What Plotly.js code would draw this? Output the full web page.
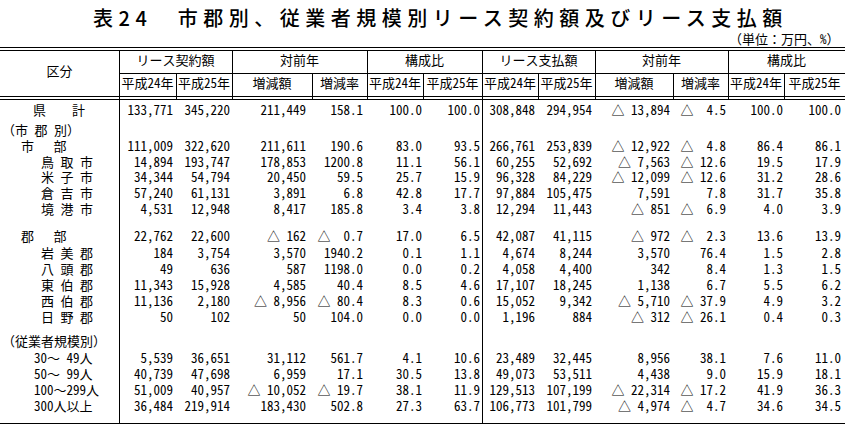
<!DOCTYPE html>
<html>
<head>
<meta charset="utf-8">
<script src="https://cdn.plot.ly/plotly-3.0.1.min.js"></script>
<style>html,body{margin:0;padding:0;background:#fff;}#chart{width:845px;height:430px;}</style>
</head>
<body>
<div id="chart"></div>
<script>
// ---------------- data ----------------
const rowLabels = ["県　　計","（市 郡 別）","市　 部","鳥 取 市","米 子 市","倉 吉 市","境 港 市","郡　 部","岩 美 郡","八 頭 郡","東 伯 郡","西 伯 郡","日 野 郡","（従業者規模別）","30～ 49人","50～ 99人","100～299人","300人以上"];
const contract24 = [133771,null,111009,14894,34344,57240,4531,22762,184,49,11343,11136,50,null,5539,40739,51009,36484];
const contract25 = [345220,null,322620,193747,54794,61131,12948,22600,3754,636,15928,2180,102,null,36651,47698,40957,219914];
const contractDiff = [211449,null,211611,178853,20450,3891,8417,-162,3570,587,4585,-8956,50,null,31112,6959,-10052,183430];
const contractRate = [158.1,null,190.6,1200.8,59.5,6.8,185.8,-0.7,1940.2,1198.0,40.4,-80.4,104.0,null,561.7,17.1,-19.7,502.8];
const contractShare24 = [100.0,null,83.0,11.1,25.7,42.8,3.4,17.0,0.1,0.0,8.5,8.3,0.0,null,4.1,30.5,38.1,27.3];
const contractShare25 = [100.0,null,93.5,56.1,15.9,17.7,3.8,6.5,1.1,0.2,4.6,0.6,0.0,null,10.6,13.8,11.9,63.7];
const payment24 = [308848,null,266761,60255,96328,97884,12294,42087,4674,4058,17107,15052,1196,null,23489,49073,129513,106773];
const payment25 = [294954,null,253839,52692,84229,105475,11443,41115,8244,4400,18245,9342,884,null,32445,53511,107199,101799];
const paymentDiff = [-13894,null,-12922,-7563,-12099,7591,-851,-972,3570,342,1138,-5710,-312,null,8956,4438,-22314,-4974];
const paymentRate = [-4.5,null,-4.8,-12.6,-12.6,7.8,-6.9,-2.3,76.4,8.4,6.7,-37.9,-26.1,null,38.1,9.0,-17.2,-4.7];
const paymentShare24 = [100.0,null,86.4,19.5,31.2,31.7,4.0,13.6,1.5,1.3,5.5,4.9,0.4,null,7.6,15.9,41.9,34.6];
const paymentShare25 = [100.0,null,86.1,17.9,28.6,35.8,3.9,13.9,2.8,1.5,6.2,3.2,0.3,null,11.0,18.1,36.3,34.5];

const titleText = "表24　市郡別、従業者規模別リース契約額及びリース支払額";
const unitText = "（単位：万円、%）";
const groupHeaders = ["リース契約額","対前年","構成比","リース支払額","対前年","構成比"];
const subHeaders = ["平成24年","平成25年","増減額","増減率","平成24年","平成25年","平成24年","平成25年","増減額","増減率","平成24年","平成25年"];
const stubHeader = "区分";

// ---------------- layout constants ----------------
const W = 845, H = 430;
const rowY = [112,132,148,163.5,179,194.5,211,238,254.5,270.5,286.5,302.5,318.5,343,359.5,375.5,391.5,407.5];
const labelX = [33,2,21,41,41,41,41,21,41,41,41,41,41,2,34,34,34,34];
const colEdges = [119,176,232,312,367,423,482,538,595,673,728,784,845];
const colRight = [173,230,306,363,422,480,535,592,670,726,783,841];
const FONT = "'Noto Sans Mono CJK JP', 'Noto Sans CJK JP', 'DejaVu Sans Mono', monospace";
const NB = "\u00a0";

function fmtInt(v){
  if (v === null) return "";
  const s = Math.abs(v).toLocaleString("en-US");
  return v < 0 ? "△" + NB + s : s;
}
function fmtRate(v){
  if (v === null) return "";
  let s = Math.abs(v).toFixed(1);
  if (v < 0) { while (s.length < 4) s = NB + s; return "△" + NB + s; }
  return s;
}
function fmtShare(v){ return v === null ? "" : v.toFixed(1); }

const columns = [
  [contract24, fmtInt],[contract25, fmtInt],[contractDiff, fmtInt],[contractRate, fmtRate],
  [contractShare24, fmtShare],[contractShare25, fmtShare],
  [payment24, fmtInt],[payment25, fmtInt],[paymentDiff, fmtInt],[paymentRate, fmtRate],
  [paymentShare24, fmtShare],[paymentShare25, fmtShare]
];

const traces = [];
columns.forEach((c, i) => {
  traces.push({
    type: "scatter", mode: "text",
    x: rowY.map(() => colRight[i]), y: rowY,
    text: c[0].map(c[1]),
    textposition: "middle left",
    marker: {size: 0},
    textfont: {family: FONT, size: 13, color: "#000"},
    hoverinfo: "skip", showlegend: false, cliponaxis: false
  });
});
traces.push({
  type: "scatter", mode: "text",
  x: labelX, y: rowY, text: rowLabels,
  textposition: "middle right", marker: {size: 0},
  textfont: {family: FONT, size: 13, color: "#000"},
  hoverinfo: "skip", showlegend: false, cliponaxis: false
});

// header text
const groupCenters = [0,1,2,3,4,5].map(g => (colEdges[g*2] + colEdges[g*2+2]) / 2);
const subCenters = subHeaders.map((_, i) => (colEdges[i] + colEdges[i+1]) / 2);
traces.push({
  type: "scatter", mode: "text",
  x: groupCenters.concat(subCenters).concat([59.5]),
  y: groupCenters.map(() => 61.5).concat(subCenters.map(() => 85)).concat([73]),
  text: groupHeaders.concat(subHeaders).concat([stubHeader]),
  textposition: "middle center", marker: {size: 0},
  textfont: {family: FONT, size: 13, color: "#000"},
  hoverinfo: "skip", showlegend: false, cliponaxis: false
});

// lines
const shapes = [];
function hline(y, x0, x1){ shapes.push({type:"line", xref:"x", yref:"y", x0:x0, x1:x1, y0:y, y1:y, line:{color:"#000", width:1}}); }
function vline(x, y0, y1){ shapes.push({type:"line", xref:"x", yref:"y", x0:x, x1:x, y0:y0, y1:y1, line:{color:"#000", width:1}}); }
hline(47.5, 0, W); hline(50.5, 0, W);
hline(73.5, 119, W);
hline(96.5, 0, W); hline(99.5, 0, W);
hline(423.5, 0, W);
[119,232,367,482,595,728].forEach(x => vline(x + 0.5, 50.5, 99.5));
[176,312,423,538,673,784].forEach(x => vline(x + 0.5, 73.5, 99.5));
vline(119.5, 99.5, 423.5); vline(482.5, 99.5, 423.5);

const layout = {
  width: W, height: H,
  margin: {l:0, r:0, t:0, b:0, pad:0},
  paper_bgcolor: "#fff", plot_bgcolor: "#fff",
  xaxis: {range: [0, W], visible: false, fixedrange: true},
  yaxis: {range: [H, 0], visible: false, fixedrange: true},
  shapes: shapes,
  annotations: [
    {xref:"x", yref:"y", x: 440, y: 17, xanchor:"center", yanchor:"middle", showarrow:false,
     text: '<span style="letter-spacing:5.5px">' + titleText + '</span>',
     font: {family: "'Noto Sans CJK JP', sans-serif", size: 20, color: "#000", weight: 500}},
    {xref:"x", yref:"y", x: 842, y: 38, xanchor:"right", yanchor:"middle", showarrow:false,
     text: unitText, font: {family: FONT, size: 13, color: "#000"}}
  ],
  showlegend: false
};

Plotly.newPlot("chart", traces, layout, {staticPlot: true, displayModeBar: false});
</script>
</body>
</html>
